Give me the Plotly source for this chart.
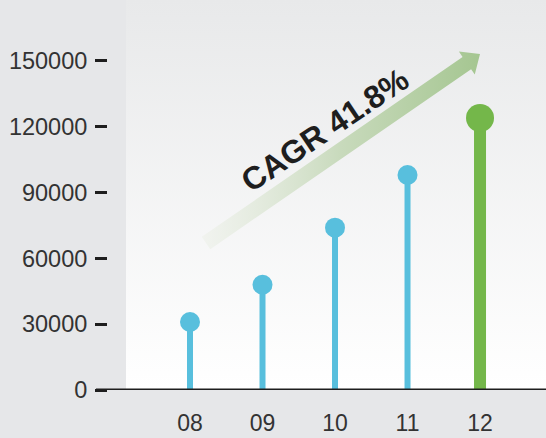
import base64
import plotly.graph_objects as go

# Chart data
years = ["08", "09", "10", "11", "12"]
values = [31000, 48000, 74000, 98000, 124000]
y_ticks = [0, 30000, 60000, 90000, 120000, 150000]
cagr_label = "CAGR 41.8%"

# Styling
BLUE = "#58bfdd"
GREEN = "#74b74a"
INK = "#1e1e1e"
TEXT = "#333333"
PAPER = "#e6e7e9"
FONT = "Liberation Sans, Arial, sans-serif"

W, H = 546, 438
M_L, M_R, M_T, M_B = 108, 0, 0, 48
PW, PH = W - M_L - M_R, H - M_T - M_B

xs = list(range(len(years)))
last = len(values) - 1

fig = go.Figure()

# Stems for the earlier years
sx, sy = [], []
for i in xs[:-1]:
    sx += [i, i, None]
    sy += [0, values[i], None]
fig.add_trace(go.Scatter(x=sx, y=sy, mode="lines",
                         line=dict(color=BLUE, width=6),
                         hoverinfo="skip", showlegend=False))
# Highlighted latest year
fig.add_trace(go.Scatter(x=[last, last], y=[0, values[last]], mode="lines",
                         line=dict(color=GREEN, width=12),
                         hoverinfo="skip", showlegend=False))
# Round heads on every stem
fig.add_trace(go.Scatter(
    x=xs, y=values, mode="markers",
    marker=dict(color=[BLUE] * last + [GREEN], opacity=1,
                size=[20] * last + [28], line=dict(width=0)),
    showlegend=False))

# Growth arrow, drawn in pixel space on an overlay axis pair
tail = (206.0, 243.0)
tip = (480.0, 54.0)
shaft_half = 7.5
head_half = 14.0
head_len = 16.0
dx, dy = tip[0] - tail[0], tip[1] - tail[1]
L = (dx ** 2 + dy ** 2) ** 0.5
ux, uy = dx / L, dy / L
nx, ny = -uy, ux
bx, by = tip[0] - ux * head_len, tip[1] - uy * head_len
poly = [
    (tail[0] + nx * shaft_half, tail[1] + ny * shaft_half),
    (bx + nx * shaft_half, by + ny * shaft_half),
    (bx + nx * head_half, by + ny * head_half),
    tip,
    (bx - nx * head_half, by - ny * head_half),
    (bx - nx * shaft_half, by - ny * shaft_half),
    (tail[0] - nx * shaft_half, tail[1] - ny * shaft_half),
]
poly.append(poly[0])
fig.add_trace(go.Scatter(
    x=[p[0] for p in poly], y=[p[1] for p in poly],
    xaxis="x2", yaxis="y2", mode="lines", line=dict(width=0),
    fill="toself",
    fillgradient=dict(type="horizontal",
                      colorscale=[[0, "rgba(238,241,234,0.6)"],
                                  [0.5, "rgba(200,218,188,1)"],
                                  [1, "rgba(165,198,145,1)"]]),
    hoverinfo="skip", showlegend=False))

# Soft vertical gradient behind the plotting area
bg_svg = (
    '<svg xmlns="http://www.w3.org/2000/svg" width="10" height="100" '
    'preserveAspectRatio="none">'
    '<defs><linearGradient id="g" x1="0" y1="0" x2="0" y2="1">'
    '<stop offset="0" stop-color="#e8e9ea"/>'
    '<stop offset="1" stop-color="#ffffff"/>'
    '</linearGradient></defs>'
    '<rect width="10" height="100" fill="url(#g)"/></svg>'
)
bg_src = "data:image/svg+xml;base64," + base64.b64encode(bg_svg.encode()).decode()
bg_left = 18 / PW

fig.update_layout(
    width=W, height=H,
    margin=dict(l=M_L, r=M_R, t=M_T, b=M_B),
    paper_bgcolor=PAPER, plot_bgcolor="rgba(0,0,0,0)",
    font=dict(family=FONT, color=TEXT, size=23),
    xaxis=dict(range=[-1.131, 4.91], tickvals=xs, ticktext=years,
               showgrid=False, zeroline=False, showline=False, ticks="",
               ticklabelstandoff=17, tickfont=dict(size=23, color=TEXT)),
    yaxis=dict(range=[0, 177800], tickvals=y_ticks,
               ticktext=[str(v) for v in y_ticks],
               showgrid=False, zeroline=False, showline=False,
               ticks="outside", ticklen=12, tickwidth=3, tickcolor=INK,
               ticklabelstandoff=3, tickfont=dict(size=23.5, color=TEXT)),
    xaxis2=dict(range=[M_L, W - M_R], overlaying="x", visible=False,
                fixedrange=True),
    yaxis2=dict(range=[H - M_B, M_T], overlaying="y", visible=False,
                fixedrange=True),
    images=[dict(source=bg_src, xref="paper", yref="paper",
                 x=bg_left, y=1, sizex=1 - bg_left, sizey=1,
                 xanchor="left", yanchor="top", sizing="stretch",
                 layer="below")],
    shapes=[dict(type="line", xref="paper", yref="y",
                 x0=-12 / PW, x1=1, y0=0, y1=0,
                 line=dict(color=INK, width=3))],
    annotations=[dict(text="<b>" + cagr_label + "</b>", xref="x2", yref="y2",
                      x=325, y=130, showarrow=False, textangle=-34,
                      font=dict(size=32, color=INK, family=FONT))],
)

fig.write_html("out.html")
